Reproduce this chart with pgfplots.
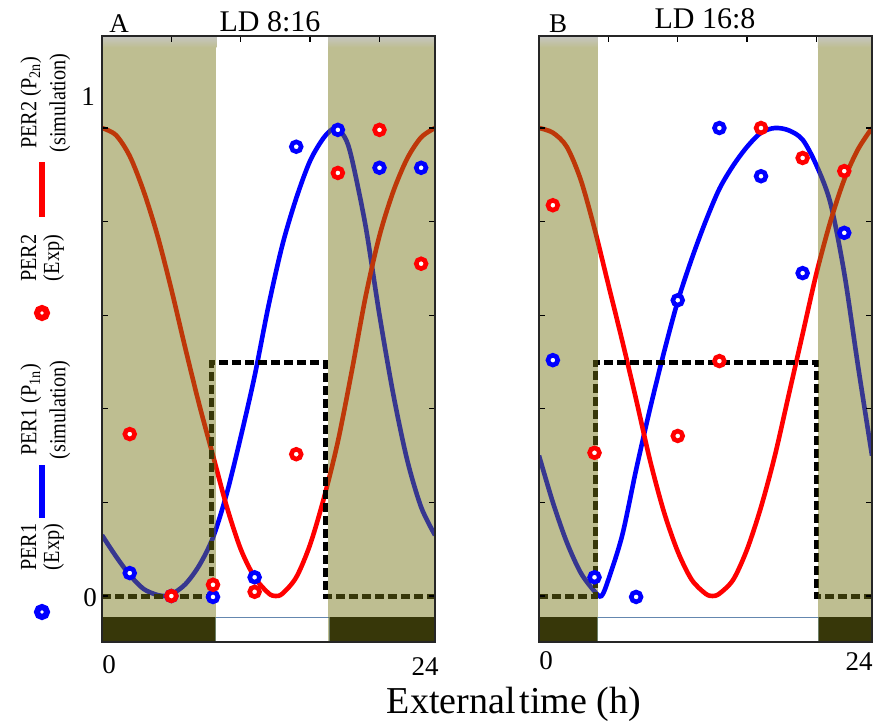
\documentclass[border=0pt]{standalone}
\usepackage{pgfplots}
\usepackage{pgfplotstable}
\pgfplotsset{compat=1.18}
\usepackage{fontspec}
\setmainfont{Liberation Serif}
\definecolor{shadeol}{RGB}{117,117,21}
\definecolor{barblue}{RGB}{100,135,175}
\definecolor{topgray}{RGB}{198,198,194}
\definecolor{olivevis}{RGB}{190,190,145}

% simulated PER1 (blue) and PER2 (red), panel A (LD 8:16)
\pgfplotstableread{
t v
0 0.13
1 0.085
2 0.045
3 0.015
4 0.002
4.6 0
5 0.003
6 0.025
7 0.065
8 0.125
9 0.22
10 0.34
11 0.47
12 0.62
13 0.75
14 0.85
15 0.93
16 0.98
16.8 1.0
17.5 0.98
18 0.935
19 0.79
20 0.6
21 0.43
22 0.29
23 0.19
24 0.13
}\blueA
\pgfplotstableread{
t v
0 1.0
1 0.985
2 0.94
3 0.865
4 0.77
5 0.655
6 0.53
7 0.41
8 0.30
9 0.19
10 0.10
11 0.04
12 0.006
12.5 0
13 0.005
14 0.04
15 0.11
16 0.21
17 0.33
18 0.48
19 0.64
20 0.77
21 0.865
22 0.935
23 0.98
24 1.0
}\redA
% panel B (LD 16:8)
\pgfplotstableread{
t v
0 0.30
1 0.2
2 0.115
3 0.05
4 0.01
4.5 0
5 0.035
6 0.13
7 0.27
8 0.4
9 0.52
10 0.63
11 0.72
12 0.8
13 0.87
14 0.92
15 0.96
16 0.99
17 1.0
18 0.995
19 0.975
20 0.92
21 0.84
22 0.69
23 0.49
24 0.30
}\blueB
\pgfplotstableread{
t v
0 1.0
1 0.99
2 0.96
3 0.89
4 0.785
5 0.665
6 0.545
7 0.42
8 0.29
9 0.18
10 0.095
11 0.035
12 0.005
12.5 0
13 0.005
14 0.035
15 0.1
16 0.19
17 0.3
18 0.43
19 0.56
20 0.69
21 0.8
22 0.89
23 0.955
24 1.0
}\redB
% experimental points
\pgfplotstableread{
t b r
2 0.049 0.346
5 0.0 0.0
8 -0.002 0.024
11 0.04 0.009
14 0.96 0.303
17 0.996 0.904
20 0.915 0.996
23 0.915 0.71
}\expA
\pgfplotstableread{
t b
1 0.504
4 0.04
7 -0.002
10 0.632
13 1.0
16 0.897
19 0.69
22 0.776
}\expBb
\pgfplotstableread{
t r
1 0.835
4 0.306
10 0.342
13 0.502
16 1.0
19 0.936
22 0.908
}\expBr

\pgfplotsset{
 panel/.style={scale only axis,width=333pt,height=606pt,
  xmin=0,xmax=24,ymin=-0.0983,ymax=1.1966,
  xtick={5,10,15,20},xticklabels={},xtick pos=right,
  ytick={0,0.2,0.4,0.6,0.8,1},yticklabels={},ytick pos=both,
  tick align=inside,major tick length=6pt,
  tick style={line width=1.3pt,black},
  axis line style={line width=1.4pt,black!85},
  axis on top},
 sim/.style={smooth,line width=4.6pt,no markers},
 exp/.style={only marks,mark=*,mark size=4.9pt,mark options={fill=white,line width=4.6pt}},
 sq/.style={black,line width=5pt,dash pattern=on 9pt off 4pt},
}

\begin{document}
\begin{tikzpicture}
\useasboundingbox (0pt,0pt) rectangle (874pt,-725pt);

% ---------------- Panel A ----------------
\begin{axis}[panel,at={(102pt,-642pt)},anchor=south west]
\fill[black] (axis cs:0,-0.0983) rectangle (axis cs:8.2,-0.0449);
\filldraw[fill=white,draw=barblue,line width=1pt] (axis cs:8.2,-0.0983) rectangle (axis cs:16.4,-0.0449);
\fill[black] (axis cs:16.4,-0.0983) rectangle (axis cs:24,-0.0449);
\addplot[blue,sim] table[x=t,y=v] {\blueA};
\addplot[red,sim] table[x=t,y=v] {\redA};
\addplot[sq] coordinates {(0,0) (7.9,0) (7.9,0.5) (16.1,0.5) (16.1,0) (24,0)};
\addplot[blue,exp] table[x=t,y=b] {\expA};
\addplot[red,exp] table[x=t,y=r] {\expA};
\fill[shadeol,opacity=0.47] (axis cs:0,-0.0983) rectangle (axis cs:8.25,1.1966);
\fill[shadeol,opacity=0.47] (axis cs:16.3,-0.0983) rectangle (axis cs:24,1.1966);
\shade[top color=topgray,bottom color=olivevis] (axis cs:0,1.1966) rectangle (axis cs:8.25,1.172);
\shade[top color=topgray,bottom color=olivevis] (axis cs:16.3,1.1966) rectangle (axis cs:24,1.172);
\end{axis}

% ---------------- Panel B ----------------
\begin{axis}[panel,at={(539pt,-642pt)},anchor=south west]
\fill[black] (axis cs:0,-0.0983) rectangle (axis cs:4.2,-0.0449);
\filldraw[fill=white,draw=barblue,line width=1pt] (axis cs:4.2,-0.0983) rectangle (axis cs:20.15,-0.0449);
\fill[black] (axis cs:20.15,-0.0983) rectangle (axis cs:24,-0.0449);
\addplot[blue,sim] table[x=t,y=v] {\blueB};
\addplot[red,sim] table[x=t,y=v] {\redB};
\addplot[sq] coordinates {(0,0) (4.1,0) (4.1,0.5) (20.0,0.5) (20.0,0) (24,0)};
\addplot[blue,exp] table[x=t,y=b] {\expBb};
\addplot[red,exp] table[x=t,y=r] {\expBr};
\fill[shadeol,opacity=0.47] (axis cs:0,-0.0983) rectangle (axis cs:4.25,1.1966);
\fill[shadeol,opacity=0.47] (axis cs:20.1,-0.0983) rectangle (axis cs:24,1.1966);
\shade[top color=topgray,bottom color=olivevis] (axis cs:0,1.1966) rectangle (axis cs:4.25,1.172);
\shade[top color=topgray,bottom color=olivevis] (axis cs:20.1,1.1966) rectangle (axis cs:24,1.172);
\end{axis}

% ---------------- texts ----------------
\node[font=\fontsize{27}{32}\selectfont] at (119pt,-24pt) {A};
\node[font=\fontsize{30}{36}\selectfont] at (270pt,-22pt) {LD 8:16};
\node[font=\fontsize{27}{32}\selectfont] at (558pt,-24pt) {B};
\node[font=\fontsize{30}{36}\selectfont] at (705pt,-19pt) {LD 16:8};

\node[font=\fontsize{27}{32}\selectfont] at (88pt,-97pt) {1};
\node[font=\fontsize{27}{32}\selectfont] at (90pt,-598pt) {0};
\node[font=\fontsize{27}{32}\selectfont] at (109pt,-665pt) {0};
\node[font=\fontsize{27}{32}\selectfont] at (425pt,-667pt) {24};
\node[font=\fontsize{27}{32}\selectfont] at (546pt,-661pt) {0};
\node[font=\fontsize{27}{32}\selectfont,inner xsep=0pt] at (859pt,-662pt) {24};
\node[font=\fontsize{38}{44}\selectfont,anchor=base] at (514pt,-713pt) {External\hspace{4pt}time (h)};

% ---------------- legend (left) ----------------
\node[rotate=90,inner sep=0pt] at (45pt,-103pt) {\fontsize{23}{29}\selectfont\scalebox{0.88}[1]{\begin{tabular}{@{}c@{}}PER2 (P\textsubscript{2n})\\(simulation)\end{tabular}}};
\draw[red,line width=6pt] (42pt,-162pt) -- (42pt,-217pt);
\node[rotate=90,inner sep=0pt] at (43pt,-258pt) {\fontsize{23}{23}\selectfont\scalebox{0.88}[1]{\begin{tabular}{@{}c@{}}PER2\\(Exp)\end{tabular}}};
\draw[red,line width=6pt,fill=white] (42pt,-313pt) circle (5pt);
\node[rotate=90,inner sep=0pt] at (45pt,-410pt) {\fontsize{23}{29}\selectfont\scalebox{0.88}[1]{\begin{tabular}{@{}c@{}}PER1 (P\textsubscript{1n})\\(simulation)\end{tabular}}};
\draw[blue,line width=6pt] (42pt,-465pt) -- (42pt,-518pt);
\node[rotate=90,inner sep=0pt] at (43pt,-547pt) {\fontsize{23}{23}\selectfont\scalebox{0.88}[1]{\begin{tabular}{@{}c@{}}PER1\\(Exp)\end{tabular}}};
\draw[blue,line width=6pt,fill=white] (42pt,-612pt) circle (5pt);
\end{tikzpicture}
\end{document}
